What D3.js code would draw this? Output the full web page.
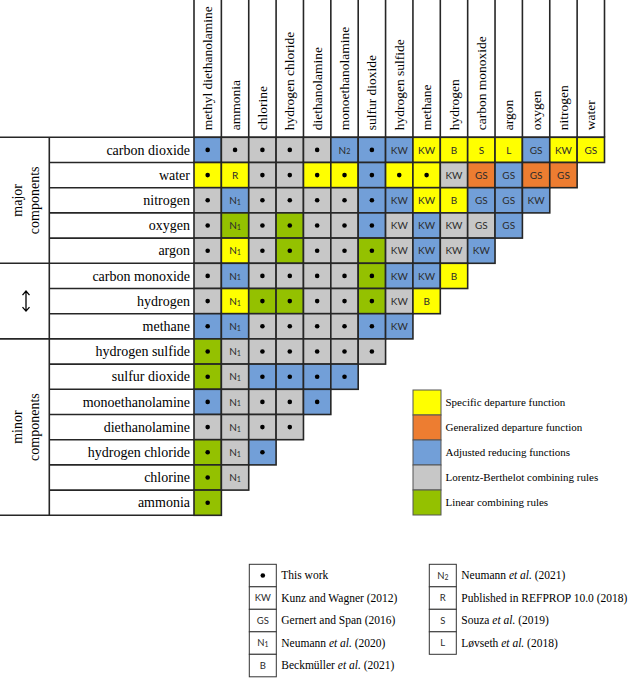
<!DOCTYPE html>
<html>
<head>
<meta charset="utf-8">
<script src="https://cdn.jsdelivr.net/npm/d3@7"></script>
<style>
  html, body { margin: 0; padding: 0; background: #fff; }
  svg { display: block; }
</style>
</head>
<body>
<svg id="chart" width="633" height="685"></svg>
<script>
// ---------------- DATA ----------------
const cols = ["methyl diethanolamine","ammonia","chlorine","hydrogen chloride","diethanolamine","monoethanolamine","sulfur dioxide","hydrogen sulfide","methane","hydrogen","carbon monoxide","argon","oxygen","nitrogen","water"];
const rows = ["carbon dioxide","water","nitrogen","oxygen","argon","carbon monoxide","hydrogen","methane","hydrogen sulfide","sulfur dioxide","monoethanolamine","diethanolamine","hydrogen chloride","chlorine","ammonia"];

// colour class per cell (y = specific, o = generalized, b = adjusted reducing, g = Lorentz-Berthelot, l = linear)
const rowColors = [
  ["b","g","g","g","g","b","b","b","y","y","y","y","b","y","y"],
  ["y","y","g","g","y","y","b","y","y","g","o","b","o","o"],
  ["g","b","g","g","g","g","b","b","y","y","b","b","b"],
  ["g","l","g","l","g","g","b","g","b","g","g","b"],
  ["g","y","g","l","g","g","l","g","b","g","b"],
  ["g","b","g","g","g","g","l","b","b","y"],
  ["g","y","l","l","g","g","l","g","y"],
  ["b","b","g","g","g","g","b","b"],
  ["l","g","g","g","g","g","g"],
  ["l","g","b","b","b","b"],
  ["b","g","g","g","b"],
  ["g","g","g","g"],
  ["l","g","b"],
  ["l","g"],
  ["l"]
];
// source label per cell ("." = this work)
const rowLabels = [
  [".",".",".",".",".","N2",".","KW","KW","B","S","L","GS","KW","GS"],
  [".","R",".",".",".",".",".",".",".","KW","GS","GS","GS","GS"],
  [".","N1",".",".",".",".",".","KW","KW","B","GS","GS","KW"],
  [".","N1",".",".",".",".",".","KW","KW","KW","GS","GS"],
  [".","N1",".",".",".",".",".","KW","KW","KW","KW"],
  [".","N1",".",".",".",".",".","KW","KW","B"],
  [".","N1",".",".",".",".",".","KW","B"],
  [".","N1",".",".",".",".",".","KW"],
  [".","N1",".",".",".",".","."],
  [".","N1",".",".",".","."],
  [".","N1",".",".","."],
  [".","N1",".","."],
  [".","N1","."],
  [".","N1"],
  ["."]
];

const colorKeys = ["y","o","b","g","l"];
const colorNames = ["Specific departure function","Generalized departure function","Adjusted reducing functions","Lorentz-Berthelot combining rules","Linear combining rules"];

const groups = [
  {lines:["major","components"], from:"carbon dioxide", to:"argon"},
  {lines:["\u2195"], from:"carbon monoxide", to:"methane"},
  {lines:["minor","components"], from:"hydrogen sulfide", to:"ammonia"}
];

const refKeys1 = [".","KW","GS","N1","B"];
const refTexts1 = ["This work","Kunz and Wagner (2012)","Gernert and Span (2016)","Neumann et al. (2020)","Beckmüller et al. (2021)"];
const refKeys2 = ["N2","R","S","L"];
const refTexts2 = ["Neumann et al. (2021)","Published in REFPROP 10.0 (2018)","Souza et al. (2019)","Løvseth et al. (2018)"];

// ---------------- DRAW ----------------
const svg = d3.select("#chart");
const SERIF = "'Liberation Serif','Times New Roman',serif";
const SANS = "Lato,'Open Sans',sans-serif";
const LINE = "#262626";

const fill = d3.scaleOrdinal().domain(colorKeys)
  .range(["#ffff00","#ed7d31","#729fd8","#c7c7c7","#94c100"]);

const x = d3.scaleBand().domain(cols).range([194, 604.5]);
const y = d3.scaleBand().domain(rows).range([137.3, 515.3]);
const bw = x.bandwidth(), bh = y.bandwidth();

// label renderer
function drawLabel(g, key, cx, cy, size) {
  if (key === ".") {
    g.append("circle").attr("cx", cx).attr("cy", cy).attr("r", 2.3).attr("fill", "#000");
    return;
  }
  const t = g.append("text").attr("x", cx).attr("y", cy).attr("dy", "0.36em")
    .attr("text-anchor", "middle").attr("font-family", SANS)
    .attr("font-size", size).attr("fill", "#2b2b2b");
  const m = key.match(/^N(\d)$/);
  if (m) {
    t.append("tspan").text("N");
    t.append("tspan").attr("font-size", size * 0.72).attr("dy", "0.12em").text(m[1]);
  } else {
    t.text(key);
  }
}

// cells
const cells = [];
rows.forEach((r, i) => {
  rowColors[i].forEach((c, j) => cells.push({row: r, col: cols[j], color: c, label: rowLabels[i][j]}));
});

const cellG = svg.append("g");
cells.forEach(d => {
  cellG.append("rect")
    .attr("x", x(d.col)).attr("y", y(d.row))
    .attr("width", bw).attr("height", bh)
    .attr("fill", fill(d.color))
    .attr("stroke", LINE).attr("stroke-width", 1.6);
});
cells.forEach(d => drawLabel(cellG, d.label, x(d.col) + bw / 2, y(d.row) + bh / 2, 10));

// column header lines and labels
const topY = y.range()[0];
const headG = svg.append("g");
const bounds = cols.map(c => x(c)).concat([x.range()[1]]);
bounds.forEach(bx => {
  headG.append("line").attr("x1", bx).attr("x2", bx).attr("y1", 0).attr("y2", topY)
    .attr("stroke", LINE).attr("stroke-width", 1.6);
});
cols.forEach(c => {
  headG.append("text")
    .attr("transform", `translate(${x(c) + bw / 2},${topY - 7}) rotate(-90)`)
    .attr("dy", "0.34em")
    .attr("font-family", SERIF).attr("font-size", 13.5).attr("fill", "#000")
    .text(c);
});

// row label region
const labG = svg.append("g");
const leftX = 49.3;
labG.append("line").attr("x1", 0).attr("x2", x.range()[1]).attr("y1", topY).attr("y2", topY)
  .attr("stroke", LINE).attr("stroke-width", 1.6);
labG.append("line").attr("x1", leftX).attr("x2", leftX).attr("y1", topY).attr("y2", y.range()[1])
  .attr("stroke", LINE).attr("stroke-width", 1.6);
rows.forEach((r, i) => {
  const yb = y(r) + bh;
  const isGroupEnd = groups.some(g => g.to === r);
  labG.append("line").attr("x1", isGroupEnd ? 0 : leftX).attr("x2", x.range()[0])
    .attr("y1", yb).attr("y2", yb).attr("stroke", LINE).attr("stroke-width", 1.6);
  labG.append("text")
    .attr("x", 190).attr("y", y(r) + bh / 2).attr("dy", "0.33em")
    .attr("text-anchor", "end").attr("font-family", SERIF).attr("font-size", 14).attr("fill", "#000")
    .text(r);
});

// group labels
groups.forEach(g => {
  const cy = (y(g.from) + y(g.to) + bh) / 2;
  if (g.lines.length === 1) {
    const ax = 26, h = 10;
    labG.append("path")
      .attr("d", `M${ax},${cy - h} L${ax},${cy + h} M${ax - 3.5},${cy - h + 4} L${ax},${cy - h} L${ax + 3.5},${cy - h + 4} M${ax - 3.5},${cy + h - 4} L${ax},${cy + h} L${ax + 3.5},${cy + h - 4}`)
      .attr("fill", "none").attr("stroke", "#000").attr("stroke-width", 1.3);
  } else {
    const t = labG.append("text")
      .attr("transform", `translate(26,${cy}) rotate(-90)`)
      .attr("text-anchor", "middle").attr("font-family", SERIF).attr("font-size", 14).attr("fill", "#000");
    t.append("tspan").attr("x", 0).attr("y", -4).text(g.lines[0]);
    t.append("tspan").attr("x", 0).attr("y", 13).text(g.lines[1]);
  }
});

// colour legend
const lg = svg.append("g");
const ly = d3.scaleBand().domain(colorKeys).range([390, 515]);
colorKeys.forEach((k, i) => {
  lg.append("rect").attr("x", 413).attr("y", ly(k)).attr("width", 28).attr("height", ly.bandwidth())
    .attr("fill", fill(k)).attr("stroke", "#555").attr("stroke-width", 1);
  lg.append("text").attr("x", 445.5).attr("y", ly(k) + ly.bandwidth() / 2).attr("dy", "0.33em")
    .attr("font-family", SERIF).attr("font-size", 11).attr("fill", "#000").text(colorNames[i]);
});

// reference legend
function refText(t, str) {
  const parts = str.split("et al.");
  parts.forEach((p, i) => {
    if (p) t.append("tspan").text(p);
    if (i < parts.length - 1) t.append("tspan").attr("font-style", "italic").text("et al.");
  });
}
function refColumn(keys, texts, bx) {
  const ry = d3.scaleBand().domain(keys).range([564.3, 564.3 + 22.5 * keys.length]);
  const g = svg.append("g");
  keys.forEach((k, i) => {
    g.append("rect").attr("x", bx).attr("y", ry(k)).attr("width", 27).attr("height", ry.bandwidth())
      .attr("fill", "#fff").attr("stroke", "#333").attr("stroke-width", 1);
    drawLabel(g, k, bx + 13.5, ry(k) + ry.bandwidth() / 2, 9.5);
    const t = g.append("text").attr("x", bx + 32).attr("y", ry(k) + ry.bandwidth() / 2).attr("dy", "0.33em")
      .attr("font-family", SERIF).attr("font-size", 11.5).attr("fill", "#000");
    refText(t, texts[i]);
  });
}
refColumn(refKeys1, refTexts1, 249.3);
refColumn(refKeys2, refTexts2, 429.3);
</script>
</body>
</html>
